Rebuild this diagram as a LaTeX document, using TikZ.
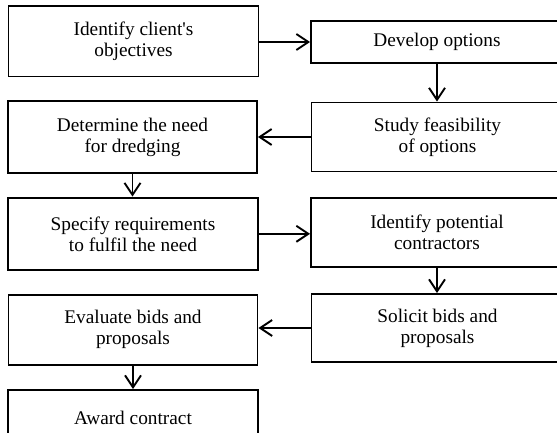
\documentclass[tikz,border=0pt]{standalone}
\usepackage{fontspec}
\newfontfamily\flowfont{Liberation Serif}
\usetikzlibrary{arrows.meta}
\tikzset{
  flowbox/.style={draw=black, line width=1.9pt, rectangle, inner sep=0pt, align=center,
    font=\flowfont\fontsize{19.3}{21}\selectfont, fill=white},
  flowarrow/.style={draw=black, line width=1.9pt, -{Straight Barb[length=12pt,width=16pt]}}
}
\begin{document}
\begin{tikzpicture}[x=1pt,y=-1pt]
\useasboundingbox (0,0) rectangle (557,433);
\clip (0,0) rectangle (557,433);
\fill[white] (0,0) rectangle (557,433);
% left column
\node[flowbox, minimum width=250pt, minimum height=70.5pt] (b1) at (133.5,41.3) {Identify client's\\objectives};
\node[flowbox, minimum width=249pt, minimum height=72pt] (b3) at (132.5,137) {Determine the need\\for dredging};
\node[flowbox, minimum width=250pt, minimum height=72.5pt] (b5) at (133,233.8) {Specify requirements\\to fulfil the need};
\node[flowbox, minimum width=249pt, minimum height=70.5pt] (b7) at (133,329.8) {Evaluate bids and\\proposals};
\node[flowbox, minimum width=250pt, minimum height=56pt] (b9) at (133,418) {Award contract};
% right column
\node[flowbox, minimum width=252pt, minimum height=42pt] (b2) at (437,42) {Develop options};
\node[flowbox, minimum width=252pt, minimum height=69pt] (b4) at (437.5,137) {Study feasibility\\of options};
\node[flowbox, minimum width=252pt, minimum height=69pt] (b6) at (437,232.5) {Identify potential\\contractors};
\node[flowbox, minimum width=252pt, minimum height=68pt] (b8) at (437.5,328) {Solicit bids and\\proposals};
% connectors
\draw[flowarrow] (b1.east |- b2.west) -- (b2.west);
\draw[flowarrow] (b2.south) -- (b4.north -| b2.south);
\draw[flowarrow] (b4.west) -- (b3.east |- b4.west);
\draw[flowarrow] (b3.south) -- (b5.north -| b3.south);
\draw[flowarrow] (b5.east) -- (b6.west |- b5.east);
\draw[flowarrow] (b6.south) -- (b8.north -| b6.south);
\draw[flowarrow] (b8.west) -- (b7.east |- b8.west);
\draw[flowarrow] (b7.south) -- (b9.north -| b7.south);
\end{tikzpicture}
\end{document}
